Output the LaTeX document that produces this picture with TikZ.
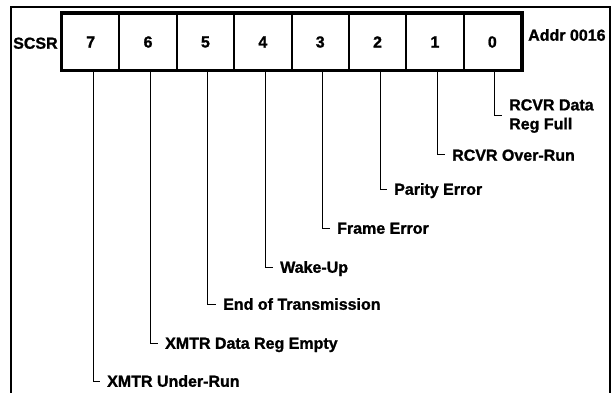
\documentclass[tikz,border=0pt]{standalone}
\usepackage{fontspec}
\setmainfont{Liberation Sans}[BoldFeatures={FakeBold=1.2}]
\begin{document}
\begin{tikzpicture}[x=1pt,y=-1pt,
  txt/.style={font=\fontsize{16}{19}\selectfont\bfseries},
  lbl/.style={txt, inner sep=0pt, anchor=west, text height=11.5pt, text depth=0pt},
  cell/.style={txt, draw, line width=2pt, minimum width=57.375pt, minimum height=56pt, inner sep=0pt},
  lead/.style={line width=1pt},
  frame/.style={line width=1.8pt}]
\useasboundingbox (0,0) rectangle (616,393);
% frame
\draw[frame] (11,393) -- (11,7) -- (610,7) -- (610,393);
% register cells
\foreach \b [count=\i from 0] in {7,6,5,4,3,2,1,0}
  \node[cell] (b\b) at ({62+57.375*(\i+0.5)},42) {\b};
\draw[line width=3pt] (b7.north west) rectangle (b0.south east);
% titles
\node[lbl] (scsr) at (13,43) {SCSR};
\node[lbl] (addr) at (528,35) {Addr 0016};
% labels
\node[lbl, align=left, text height=, text depth=] (l0) at (509,116) {RCVR Data\\Reg Full};
\node[lbl] (l1) at (452,155) {RCVR Over-Run};
\node[lbl] (l2) at (394,189) {Parity Error};
\node[lbl] (l3) at (337,228) {Frame Error};
\node[lbl] (l4) at (280,267) {Wake-Up};
\node[lbl] (l5) at (223,304) {End of Transmission};
\node[lbl] (l6) at (165,343) {XMTR Data Reg Empty};
\node[lbl] (l7) at (107,381) {XMTR Under-Run};
% leaders
\foreach \b in {0,...,7}
  \draw[lead] ([xshift=2.5pt]b\b.south) |- ([xshift=-7pt]l\b.west);
\end{tikzpicture}
\end{document}
